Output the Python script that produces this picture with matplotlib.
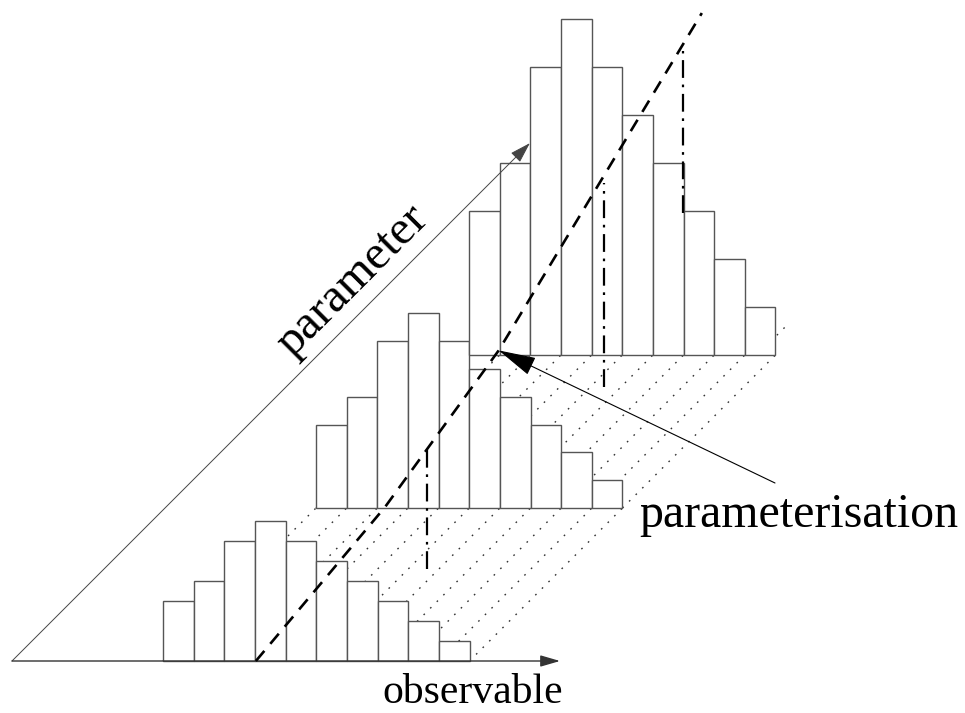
import matplotlib
matplotlib.use("Agg")
import matplotlib.pyplot as plt
import numpy as np

# =====================================================
# DATA
# =====================================================
counts = [3, 4, 6, 7, 6, 5, 4, 3, 2, 1]          # same shape for every histogram
hist_param = [0, 1, 2]                             # parameter step of each histogram
hist_scale = [1.0, 1.39, 2.4]                      # normalisation of each histogram

# dashed "parameterisation" curve: (observable bin, parameter step)
curve_obs = [3.03, 2.22, 0.82, -3.56]
curve_par = [0.0, 1.007, 2.03, 4.235]

# dash-dot markers: foot (observable bin, parameter step) and length in px
mark_obs = [5.61, 5.45, 2.35]
mark_par = [0.60, 1.79, 2.93]
mark_len = [122, 204, 162]

# =====================================================
# LAYOUT (pixels)
# =====================================================
W, H = 965, 713
x_origin, y_origin = 12, 661
first_bin = 151          # distance from origin to first bin edge
bin_w = 30.65
unit_h = 20.0
step = 153               # diagonal step per parameter unit
edge = "#555555"
dots = (0, (1.2, 5.5))


def to_px(obs, par, height=0.0):
    x = x_origin + first_bin + obs * bin_w + par * step
    y = y_origin - par * step - height
    return x, y


fig = plt.figure(figsize=(W / 100, H / 100), dpi=100)
ax = fig.add_axes([0, 0, 1, 1])
ax.set_xlim(0, W)
ax.set_ylim(H, 0)
ax.axis("off")

# =====================================================
# DOTTED CONNECTORS BETWEEN HISTOGRAMS
# =====================================================
for p in hist_param[:-1]:
    for i in range(len(counts) + 1):
        x0, y0 = to_px(i, p)
        x1, y1 = to_px(i, p + 1)
        ax.plot([x0, x1], [y0, y1], color="#333333", lw=1.0,
                linestyle=dots, zorder=1)
xa, ya = to_px(9.4, 2.0)
xb, yb = to_px(9.4, 2.2)
ax.plot([xa, xb], [ya, yb], color="#333333", lw=1.0,
        linestyle=dots, zorder=1)

# =====================================================
# HISTOGRAMS
# =====================================================
for p, s in zip(hist_param, hist_scale):
    left, base = to_px(0, p)
    lefts = left + np.arange(len(counts)) * bin_w
    heights = np.array(counts) * unit_h * s
    ax.bar(lefts, -heights, width=bin_w, bottom=base, align="edge",
           facecolor="white", edgecolor=edge, linewidth=1.0,
           zorder=2 + p)

# =====================================================
# AXES ARROWS
# =====================================================
xe, ye = to_px(-first_bin / bin_w, 3.385)
ax.annotate("", xy=(xe, ye), xytext=(x_origin, y_origin),
            arrowprops=dict(arrowstyle="-|>,head_length=1.3,head_width=0.4",
                            mutation_scale=10, color="#444444", lw=0.7,
                            shrinkA=0, shrinkB=0),
            zorder=6)
ax.annotate("", xy=(560, y_origin), xytext=(x_origin, y_origin),
            arrowprops=dict(arrowstyle="-|>,head_length=1.2,head_width=0.35",
                            mutation_scale=10, color="#333333", lw=1.0,
                            shrinkA=0, shrinkB=0),
            zorder=6)

# =====================================================
# PARAMETERISATION CURVE AND MARKERS
# =====================================================
cx, cy = to_px(np.array(curve_obs), np.array(curve_par))
ax.plot(cx, cy, color="black", lw=1.9, linestyle=(0, (5, 3.5)), zorder=7)

for o, p, L in zip(mark_obs, mark_par, mark_len):
    mx, my = to_px(o, p)
    ax.plot([mx, mx], [my, my - L], color="black", lw=1.6,
            linestyle=(0, (8, 3, 1.2, 3)), zorder=7)

# =====================================================
# LABELS
# =====================================================
font = "Liberation Serif"
ax.text(352, 281, "parameter", rotation=45, rotation_mode="anchor",
        ha="center", va="center", fontsize=35, family=font, zorder=8)
ax.text(473, 703, "observable", ha="center", va="baseline",
        fontsize=30, family=font, zorder=8)

tip = to_px(curve_obs[2], curve_par[2])
ax.annotate("", xy=tip, xytext=(775, 483),
            arrowprops=dict(arrowstyle="-|>,head_length=2.4,head_width=0.6",
                            mutation_scale=10, color="black", lw=0.8,
                            shrinkA=0, shrinkB=0),
            zorder=9)
ax.text(799, 527, "parameterisation", ha="center", va="baseline",
        fontsize=34.5, family=font, zorder=8)

plt.savefig("out.png", dpi=100)
plt.close()
